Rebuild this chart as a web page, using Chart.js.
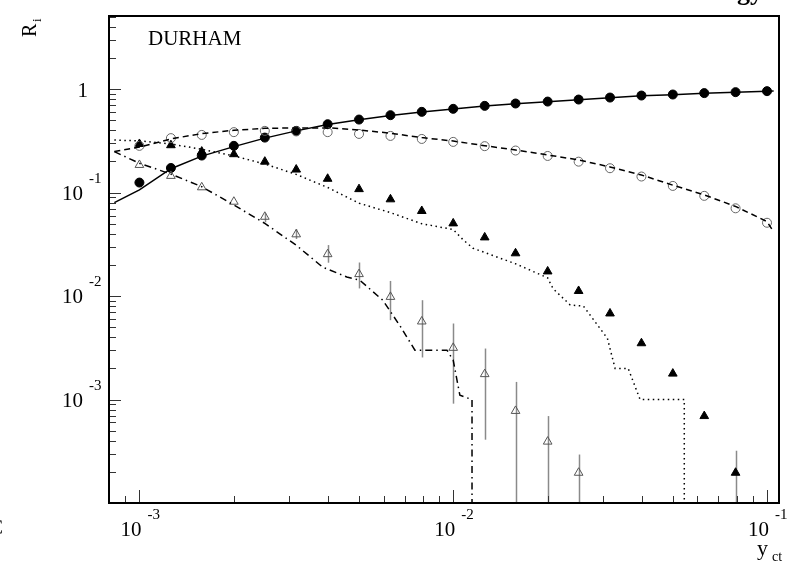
<!DOCTYPE html>
<html>
<head>
<meta charset="utf-8">
<script src="https://cdn.jsdelivr.net/npm/chart.js@4.4.1/dist/chart.umd.min.js"></script>
<style>
  html, body { margin: 0; padding: 0; background: #fff; }
  #wrap { width: 787px; height: 562px; position: relative; }
</style>
</head>
<body>
<div id="wrap"><canvas id="rateChart" width="787" height="562"></canvas></div>
<script>
// y_cut values where the data points sit
const yCut = [0.001, 0.00126, 0.00158, 0.002, 0.00251, 0.00316, 0.00398, 0.00501, 0.00631, 0.00794,
  0.01, 0.0126, 0.0158, 0.02, 0.0251, 0.0316, 0.0398, 0.0501, 0.0631, 0.0794, 0.1];

// measured jet rates (markers)
const rate2 = [0.125, 0.173, 0.228, 0.283, 0.340, 0.395, 0.458, 0.508, 0.560, 0.603,
  0.645, 0.689, 0.726, 0.758, 0.793, 0.829, 0.867, 0.887, 0.915, 0.935, 0.956];
const rate3 = [0.283, 0.336, 0.361, 0.384, 0.395, 0.390, 0.384, 0.369, 0.353, 0.330,
  0.309, 0.281, 0.255, 0.226, 0.199, 0.172, 0.143, 0.116, 0.093, 0.0705, 0.0511];
const rate4 = [0.295, 0.287, 0.249, 0.235, 0.199, 0.167, 0.136, 0.108, 0.0861, 0.0664,
  0.0504, 0.0369, 0.0259, 0.0173, 0.0112, 0.00679, 0.00350, 0.00178, 0.000692, 0.000196];
const rate5 = [0.185, 0.145, 0.1125, 0.0816, 0.0584, 0.0395, 0.0254, 0.0163, 0.00982, 0.00568,
  0.00316, 0.00176, 0.000776, 0.000392, 0.000196];

// error bars (upper / lower), null = none drawn
const rate4Hi = [null, null, null, null, null, null, null, null, null, null,
  null, null, null, null, null, null, null, null, null, 0.00032];
const rate4Lo = [null, null, null, null, null, null, null, null, null, null,
  null, null, null, null, null, null, null, null, null, 0.00001];
const rate5Hi = [null, null, null, null, 0.0632, 0.0444, 0.0311, 0.0211, 0.0140, 0.00912,
  0.00543, 0.00311, 0.00148, 0.000692, 0.000294];
const rate5Lo = [null, null, null, null, 0.0517, 0.0356, 0.0210, 0.01185, 0.00585, 0.00255,
  0.000912, 0.000409, 0.00001, 0.00001, 0.00001];

// model curves
const solidX = [0.000832, 0.001, 0.00126, 0.00158, 0.002, 0.00251, 0.00316, 0.00398, 0.00501, 0.00631,
  0.00794, 0.01, 0.0126, 0.0158, 0.02, 0.0251, 0.0316, 0.0398, 0.0501, 0.0631, 0.0794, 0.1, 0.105];
const solidY = [0.080, 0.106, 0.170, 0.225, 0.278, 0.336, 0.395, 0.455, 0.505, 0.557,
  0.600, 0.642, 0.686, 0.723, 0.756, 0.790, 0.826, 0.862, 0.884, 0.912, 0.933, 0.955, 0.960];

const dashX = [0.000832, 0.001, 0.00126, 0.00158, 0.002, 0.00251, 0.00316, 0.00406, 0.00501, 0.00631,
  0.00794, 0.01, 0.0126, 0.0158, 0.02, 0.0251, 0.0316, 0.0398, 0.0501, 0.0631, 0.0794, 0.1, 0.105];
const dashY = [0.249, 0.275, 0.330, 0.372, 0.400, 0.418, 0.422, 0.422, 0.403, 0.375,
  0.340, 0.315, 0.284, 0.258, 0.231, 0.207, 0.177, 0.148, 0.118, 0.095, 0.0735, 0.0525, 0.0418];

const dotX = [0.000832, 0.001, 0.00126, 0.00158, 0.002, 0.00251, 0.00316, 0.00398, 0.00501, 0.00631,
  0.00794, 0.01, 0.01075, 0.01156, 0.0158, 0.02, 0.0208, 0.0236, 0.026, 0.031, 0.0328, 0.0361,
  0.0394, 0.0545, 0.0545];
const dotY = [0.322, 0.316, 0.295, 0.262, 0.226, 0.189, 0.150, 0.112, 0.079, 0.064,
  0.050, 0.044, 0.035, 0.029, 0.0205, 0.0150, 0.0118, 0.0082, 0.0080, 0.0039, 0.0020, 0.0020,
  0.0010, 0.0010, 0.00001];

const dashDotX = [0.000832, 0.001, 0.00126, 0.00158, 0.002, 0.00251, 0.00316, 0.00384, 0.00458, 0.00504,
  0.00597, 0.00681, 0.00755, 0.00955, 0.01, 0.0105, 0.01148, 0.01148];
const dashDotY = [0.249, 0.192, 0.151, 0.114, 0.0759, 0.0504, 0.031, 0.019, 0.0153, 0.0142,
  0.0091, 0.0050, 0.0030, 0.0030, 0.0024, 0.0011, 0.0010, 0.00001];

// axis ranges and labelled decades
const xRange = [0.0008, 0.1092];
const yRange = [0.0001, 5.09];
const xDecades = [{ v: 0.001, e: '-3' }, { v: 0.01, e: '-2' }, { v: 0.1, e: '-1' }];
const yDecades = [{ v: 1, e: null }, { v: 0.1, e: '-1' }, { v: 0.01, e: '-2' }, { v: 0.001, e: '-3' }];

function pts(xs, ys) {
  return ys.map((y, i) => ({ x: xs[i], y: y }));
}

const SERIF = '"Liberation Serif", "DejaVu Serif", serif';

const decorations = {
  id: 'decorations',
  beforeDatasetsDraw(chart) {
    const { ctx, chartArea: a, scales } = chart;
    const xs = scales.x, ys = scales.y;
    ctx.save();
    ctx.beginPath();
    ctx.rect(a.left, a.top, a.right - a.left, a.bottom - a.top);
    ctx.clip();
    ctx.strokeStyle = '#8a8a8a';
    ctx.lineWidth = 1.5;
    const bars = (hi, lo) => {
      hi.forEach((h, i) => {
        if (h == null) return;
        const px = Math.round(xs.getPixelForValue(yCut[i])) + 0.5;
        ctx.beginPath();
        ctx.moveTo(px, ys.getPixelForValue(h));
        ctx.lineTo(px, ys.getPixelForValue(lo[i]));
        ctx.stroke();
      });
    };
    bars(rate5Hi, rate5Lo);
    bars(rate4Hi, rate4Lo);
    ctx.restore();
  },
  afterDraw(chart) {
    const { ctx, chartArea: a, scales } = chart;
    const xs = scales.x, ys = scales.y;
    ctx.save();

    // ticks
    ctx.strokeStyle = '#333';
    ctx.lineWidth = 1;
    for (let d = -4; d <= 0; d++) {
      for (let m = 1; m <= 9; m++) {
        const v = m * Math.pow(10, d);
        if (v < yRange[0] || v > yRange[1]) continue;
        const py = Math.round(ys.getPixelForValue(v)) + 0.5;
        const len = m === 1 ? 12 : 7;
        ctx.beginPath();
        ctx.moveTo(a.left, py);
        ctx.lineTo(a.left + len, py);
        ctx.stroke();
      }
    }
    for (let d = -4; d <= -1; d++) {
      for (let m = 1; m <= 9; m++) {
        const v = m * Math.pow(10, d);
        if (v <= xRange[0] * 1.01 || v > xRange[1]) continue;
        const px = Math.round(xs.getPixelForValue(v)) + 0.5;
        const len = m === 1 ? 13 : 7;
        ctx.beginPath();
        ctx.moveTo(px, a.bottom);
        ctx.lineTo(px, a.bottom - len);
        ctx.stroke();
      }
    }

    // frame
    ctx.strokeStyle = '#000';
    ctx.lineWidth = 2;
    ctx.strokeRect(a.left, a.top, a.right - a.left, a.bottom - a.top);

    // tick labels
    ctx.fillStyle = '#000';
    ctx.textBaseline = 'alphabetic';
    yDecades.forEach(t => {
      const py = ys.getPixelForValue(t.v);
      if (t.e == null) {
        ctx.font = '21px ' + SERIF;
        ctx.textAlign = 'right';
        ctx.fillText('1', 88, py + 8);
        return;
      }
      ctx.font = '21px ' + SERIF;
      ctx.textAlign = 'right';
      ctx.fillText('10', 83, py + 7);
      ctx.font = '15px ' + SERIF;
      ctx.textAlign = 'left';
      ctx.fillText(t.e, 89, py - 10);
    });
    xDecades.forEach(t => {
      const px = xs.getPixelForValue(t.v);
      ctx.font = '21px ' + SERIF;
      ctx.textAlign = 'right';
      ctx.fillText('10', px + 2, 536);
      ctx.font = '15px ' + SERIF;
      ctx.textAlign = 'left';
      ctx.fillText(t.e, px + 8, 519);
    });

    // axis titles
    ctx.save();
    ctx.translate(36, 37);
    ctx.rotate(-Math.PI / 2);
    ctx.font = '20px ' + SERIF;
    ctx.textAlign = 'left';
    ctx.fillText('R', 0, 0);
    ctx.font = '13px ' + SERIF;
    ctx.fillText('i', 15, 5);
    ctx.restore();

    ctx.font = '22px ' + SERIF;
    ctx.textAlign = 'left';
    ctx.fillText('y', 757, 555);
    ctx.font = '14px ' + SERIF;
    ctx.fillText('ct', 772, 561);

    // algorithm label
    ctx.font = '21px ' + SERIF;
    ctx.fillText('DURHAM', 148, 45);

    // cut-off fragments at the picture edges
    ctx.font = 'bold 26px ' + SERIF;
    ctx.textAlign = 'right';
    ctx.fillText('Energy', 763, 0);
    ctx.font = '21px ' + SERIF;
    ctx.textAlign = 'left';
    ctx.fillText('C', -11, 534);

    ctx.restore();
  }
};

const lineStyle = (data, dash) => ({
  data: data,
  showLine: true,
  borderColor: '#000',
  borderWidth: 1.5,
  borderDash: dash,
  pointRadius: 0,
  pointHoverRadius: 0,
  tension: 0,
  fill: false
});

const ctx = document.getElementById('rateChart').getContext('2d');
const rateChart = new Chart(ctx, {
  type: 'scatter',
  data: {
    datasets: [
      lineStyle(pts(solidX, solidY), []),
      lineStyle(pts(dashX, dashY), [6, 4]),
      lineStyle(pts(dotX, dotY), [1.5, 3.5]),
      lineStyle(pts(dashDotX, dashDotY), [7, 4, 1.5, 4]),
      {
        data: pts(yCut, rate3),
        pointStyle: 'circle',
        pointRadius: 4.5,
        borderColor: '#666',
        borderWidth: 1,
        backgroundColor: 'rgba(0,0,0,0)'
      },
      {
        data: pts(yCut, rate5),
        pointStyle: 'triangle',
        pointRadius: 5,
        borderColor: '#555',
        borderWidth: 1,
        backgroundColor: 'rgba(0,0,0,0)'
      },
      {
        data: pts(yCut, rate4),
        pointStyle: 'triangle',
        pointRadius: 5,
        borderColor: '#000',
        borderWidth: 1,
        backgroundColor: '#000'
      },
      {
        data: pts(yCut, rate2),
        pointStyle: 'circle',
        pointRadius: 4.5,
        borderColor: '#000',
        borderWidth: 1,
        backgroundColor: '#000'
      }
    ]
  },
  options: {
    responsive: false,
    animation: false,
    layout: { padding: { left: 109, right: 8, top: 16, bottom: 59 } },
    plugins: {
      legend: { display: false },
      tooltip: { enabled: false }
    },
    scales: {
      x: { type: 'logarithmic', min: xRange[0], max: xRange[1], display: false },
      y: { type: 'logarithmic', min: yRange[0], max: yRange[1], display: false }
    }
  },
  plugins: [decorations]
});
</script>
</body>
</html>
